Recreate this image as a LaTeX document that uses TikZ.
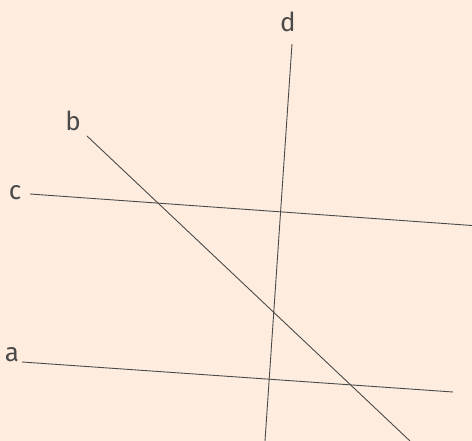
\documentclass[tikz,border=0pt]{standalone}
\usepackage{fontspec}
\setmainfont{Fira Sans}
\definecolor{bgc}{HTML}{FEEDDF}
\definecolor{inkc}{HTML}{4A4A4A}
\begin{document}
\begin{tikzpicture}[x=1pt,y=-1pt,
  lbl/.style={text=inkc,font=\fontsize{26}{28}\selectfont,inner sep=0pt},
  ln/.style={draw=inkc,line width=0.9pt}]
\fill[bgc] (0,0) rectangle (472,441);
\useasboundingbox (0,0) rectangle (472,441);
\node[lbl] (la) at (12,355) {a};
\node[lbl] (lb) at (73,121) {b};
\node[lbl] (lc) at (15,193) {c};
\node[lbl] (ld) at (288,22) {d};
\coordinate (a1) at (22,362);
\coordinate (a2) at (453,392);
\coordinate (b1) at (87,136);
\coordinate (b2) at (410,441);
\coordinate (c1) at (30,194);
\coordinate (c2) at (472,225.5);
\coordinate (d1) at (292,44);
\coordinate (d2) at (265,441);
\draw[ln] (a1) -- (a2);
\draw[ln] (b1) -- (b2);
\draw[ln] (c1) -- (c2);
\draw[ln] (d1) -- (d2);
\end{tikzpicture}
\end{document}
